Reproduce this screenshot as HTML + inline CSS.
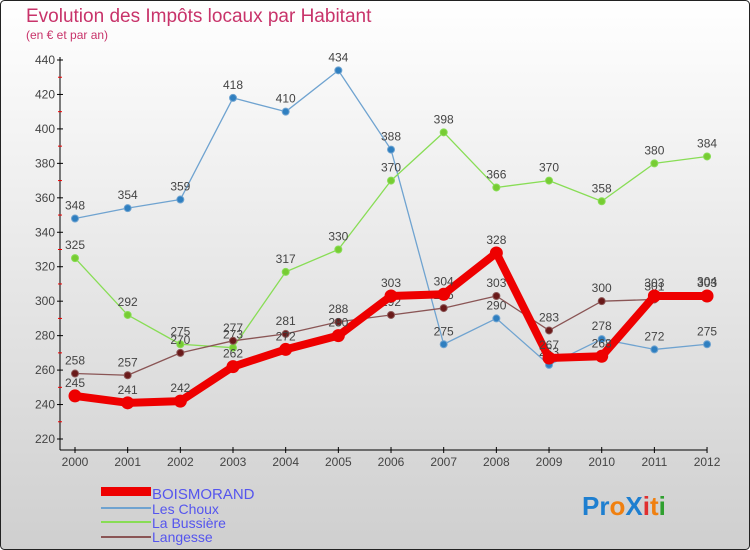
<!DOCTYPE html>
<html><head><meta charset="utf-8"><style>
body{margin:0;width:750px;height:550px;overflow:hidden;font-family:"Liberation Sans",sans-serif}
svg{display:block}
</style></head><body>
<svg width="750" height="550">
<defs><linearGradient id="bg" x1="0" y1="0" x2="0" y2="1"><stop offset="0" stop-color="#ffffff"/><stop offset="1" stop-color="#cfcfcf"/></linearGradient></defs>
<rect x="0.5" y="0.5" width="749" height="549" rx="4" fill="url(#bg)" stroke="#222"/>
<text x="26" y="22" font-size="19" fill="#c8336a">Evolution des Impôts locaux par Habitant</text>
<text x="26" y="39" font-size="12" fill="#c8336a">(en € et par an)</text>
<g id="axes"></g><g id="series"></g>
<g>
<rect x="101" y="487" width="50" height="9" fill="#e00"/>
<text x="152" y="499" font-size="15" fill="#5555ee">BOISMORAND</text>
<line x1="101" y1="508" x2="151" y2="508" stroke="#6fa3d0" stroke-width="2"/>
<text x="152" y="514" font-size="14" fill="#5555ee">Les Choux</text>
<line x1="101" y1="522" x2="151" y2="522" stroke="#88dd55" stroke-width="2"/>
<text x="152" y="528" font-size="14" fill="#5555ee">La Bussière</text>
<line x1="101" y1="537" x2="151" y2="537" stroke="#8a5555" stroke-width="2"/>
<text x="152" y="542" font-size="14" fill="#5555ee">Langesse</text>
</g>
<text x="582" y="515" font-size="26" font-weight="bold"><tspan fill="#1e7fd0">Pr</tspan><tspan fill="#f08010">o</tspan><tspan fill="#1e7fd0">X</tspan><tspan fill="#e03030">i</tspan><tspan fill="#f08010">t</tspan><tspan fill="#30a030">i</tspan></text>
</svg>
<script>
const years=["2000","2001","2002","2003","2004","2005","2006","2007","2008","2009","2010","2011","2012"];
const yTicks=[220,240,260,280,300,320,340,360,380,400,420,440];
const boismorand=[245,241,242,262,272,280,303,304,328,267,268,303,303];
const lesChoux=[348,354,359,418,410,434,388,275,290,263,278,272,275];
const laBussiere=[325,292,275,273,317,330,370,398,366,370,358,380,384];
const langesse=[258,257,270,277,281,288,292,296,303,283,300,301,304];
const NS="http://www.w3.org/2000/svg";
const X=i=>75+i*52.67;
const Y=v=>60+(440-v)*(379/220);
function mk(t,a,p){const e=document.createElementNS(NS,t);for(const k in a)e.setAttribute(k,a[k]);p.appendChild(e);return e;}
const ax=document.getElementById('axes');
let l=mk('line',{x1:60,y1:57,x2:60,y2:450,stroke:'#000'},ax);


l=mk('line',{x1:60,y1:450,x2:707,y2:450,stroke:'#000'},ax);


yTicks.forEach(v=>{
 mk('line',{x1:57,y1:Y(v),x2:63,y2:Y(v),stroke:'#000'},ax);
 const t=mk('text',{x:55,y:Y(v)+4,'font-size':12,fill:'#444','text-anchor':'end'},ax);
 t.textContent=v;
 
 
 if(v<440) mk('line',{x1:58,y1:Y(v+10),x2:62,y2:Y(v+10),stroke:'#e00'},ax);
});
years.forEach((y,i)=>{
 mk('line',{x1:X(i),y1:447,x2:X(i),y2:453,stroke:'#000'},ax);
 const t=mk('text',{x:X(i),y:466,'font-size':12,fill:'#444','text-anchor':'middle'},ax);
 t.textContent=y;
 
 
});
const sg=document.getElementById('series');
function series(data,color,w,r,name,dot){
 const g=mk('g',{},sg);
 
 
 const p=mk('polyline',{points:data.map((v,i)=>X(i)+','+Y(v)).join(' '),fill:'none',stroke:color,'stroke-width':w,'stroke-linejoin':'round'},g);
 
 
 data.forEach((v,i)=>{
  const c=mk('circle',{cx:X(i),cy:Y(v),r:r,fill:dot,stroke:color,'stroke-width':1},g);
  
  
  const t=mk('text',{x:X(i),y:Y(v)-9,'font-size':12,fill:'#444','text-anchor':'middle'},g);
  t.textContent=v;
  
  
 });
}
series(lesChoux,'#6fa3d0',1.3,3.5,'les-choux','#2f7fc0');
series(laBussiere,'#88dd55',1.3,3.5,'la-bussiere','#77cc33');
series(langesse,'#8a5555',1.3,3.5,'langesse','#6a1a1a');
series(boismorand,'#ee0000',8,6,'boismorand','#ee0000');
</script>
</body></html>
